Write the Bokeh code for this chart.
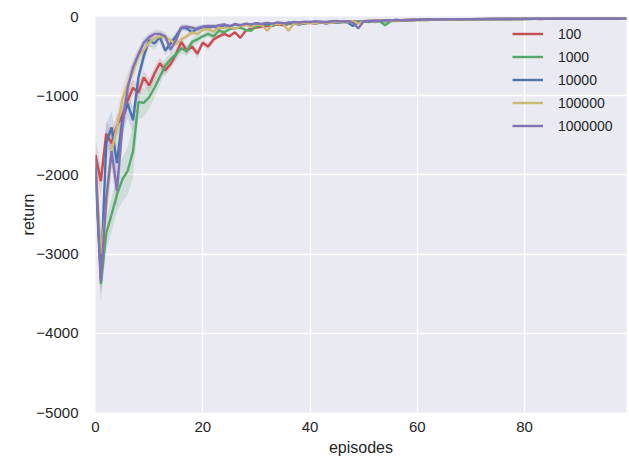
from bokeh.plotting import figure
from bokeh.models import Range1d, FixedTicker, Legend, LegendItem
from bokeh.embed import file_html
from bokeh.resources import INLINE

episodes = list(range(100))

ret_100 = [
    -1750, -2080, -1480, -1600, -1380, -1250, -1060, -900, -960, -770,
    -870, -720, -590, -680, -600, -480, -320, -430, -380, -470,
    -330, -380, -290, -250, -220, -250, -200, -270, -180, -150,
    -140, -130, -120, -110, -100, -110, -95, -90, -100, -85,
    -80, -90, -75, -80, -70, -75, -65, -70, -60, -65,
    -60, -55, -60, -50, -55, -50, -45, -50, -45, -40,
    -42, -40, -38, -40, -36, -38, -35, -36, -34, -35,
    -34, -33, -34, -32, -33, -32, -31, -32, -31, -30,
    -31, -30, -30, -31, -30, -29, -30, -29, -30, -29,
    -29, -30, -29, -28, -29, -29, -28, -29, -28, -28]

ret_1000 = [
    -1950, -3380, -2740, -2500, -2250, -2060, -1950, -1700, -1080, -1090,
    -1020, -900, -760, -620, -540, -480, -400, -440, -320, -290,
    -250, -220, -250, -180, -200, -160, -150, -140, -170, -180,
    -120, -110, -100, -120, -90, -100, -85, -95, -80, -90,
    -75, -85, -70, -80, -70, -65, -75, -60, -70, -65,
    -60, -70, -55, -60, -110, -60, -50, -55, -45, -50,
    -45, -42, -44, -40, -38, -40, -36, -37, -35, -36,
    -34, -35, -33, -34, -32, -33, -32, -31, -32, -31,
    -30, -31, -30, -30, -29, -30, -29, -30, -29, -29,
    -29, -28, -29, -28, -29, -28, -28, -29, -28, -28]

ret_10000 = [
    -1900, -3300, -1600, -1400, -1850, -1300, -1100, -1310, -770, -500,
    -300, -340, -260, -430, -340, -250, -140, -150, -200, -150,
    -130, -140, -120, -150, -110, -130, -100, -120, -95, -110,
    -90, -100, -85, -110, -80, -95, -75, -90, -100, -80,
    -70, -85, -75, -90, -70, -80, -65, -75, -120, -70,
    -65, -60, -70, -55, -60, -50, -55, -48, -50, -45,
    -42, -40, -41, -38, -37, -38, -35, -36, -34, -35,
    -33, -34, -32, -33, -32, -31, -32, -31, -30, -31,
    -30, -30, -29, -30, -29, -30, -29, -29, -28, -29,
    -28, -29, -28, -28, -29, -28, -28, -27, -28, -28]

ret_100000 = [
    -1850, -3000, -2400, -1700, -1400, -1050, -850, -700, -500, -420,
    -330, -280, -250, -260, -300, -350, -290, -250, -200, -220,
    -170, -160, -190, -140, -150, -130, -160, -120, -110, -130,
    -100, -110, -180, -100, -90, -95, -180, -85, -90, -80,
    -75, -85, -70, -80, -75, -70, -65, -75, -60, -90,
    -60, -55, -65, -50, -55, -50, -60, -48, -45, -50,
    -44, -42, -45, -40, -38, -40, -37, -38, -35, -36,
    -35, -34, -33, -34, -32, -33, -32, -31, -31, -30,
    -31, -30, -30, -29, -30, -29, -29, -30, -29, -28,
    -29, -28, -28, -29, -28, -28, -27, -28, -28, -27]

ret_1000000 = [
    -1800, -3350, -2300, -1700, -2200, -1400, -900, -640, -480, -330,
    -260, -220, -220, -250, -420, -300, -140, -130, -140, -160,
    -130, -120, -130, -110, -100, -120, -95, -110, -90, -100,
    -85, -95, -80, -90, -75, -85, -80, -70, -75, -65,
    -70, -60, -65, -70, -60, -55, -65, -60, -80, -150,
    -60, -55, -50, -55, -48, -50, -45, -48, -42, -45,
    -40, -41, -38, -39, -37, -36, -35, -36, -34, -33,
    -33, -32, -33, -31, -32, -31, -30, -31, -30, -30,
    -29, -30, -29, -29, -30, -29, -28, -29, -28, -28,
    -28, -29, -28, -27, -28, -28, -27, -28, -27, -27]

# spread (half-width of shaded band) for the first 25 episodes
sd_100 = [200, 180, 150, 150, 130, 120, 110, 100, 100, 90, 90, 80, 70, 70, 60, 60, 50, 60, 50, 50, 40, 40, 35, 30, 30]
sd_1000 = [250, 200, 200, 220, 220, 280, 300, 330, 220, 180, 150, 120, 100, 90, 80, 80, 70, 60, 50, 50, 40, 40, 35, 30, 30]
sd_10000 = [220, 200, 250, 200, 250, 200, 180, 160, 120, 100, 80, 70, 60, 60, 50, 50, 40, 40, 40, 35, 30, 30, 30, 25, 25]
sd_100000 = [200, 220, 250, 220, 200, 180, 150, 120, 100, 80, 70, 60, 60, 50, 50, 50, 40, 40, 35, 35, 30, 30, 30, 25, 25]
sd_1000000 = [220, 250, 230, 220, 220, 200, 150, 100, 80, 60, 50, 50, 50, 50, 60, 50, 40, 30, 30, 30, 30, 25, 25, 20, 20]

labels = ["100", "1000", "10000", "100000", "1000000"]
series = [ret_100, ret_1000, ret_10000, ret_100000, ret_1000000]
spreads = [sd_100, sd_1000, sd_10000, sd_100000, sd_1000000]
colors = ["#C44E52", "#55A868", "#4C72B0", "#CCB974", "#8172B2"]

x_ticks = [0, 20, 40, 60, 80]
y_ticks = [0, -1000, -2000, -3000, -4000, -5000]
y_tick_labels = {0: "0", -1000: "\u22121000", -2000: "\u22122000", -3000: "\u22123000",
                 -4000: "\u22124000", -5000: "\u22125000"}

FONT = "Liberation Sans"
TXT = "#262626"

p = figure(width=629, height=460, output_backend="svg", toolbar_location=None,
           x_range=Range1d(0, 99), y_range=Range1d(-5000, 0),
           min_border_left=95, min_border_right=3, min_border_top=16, min_border_bottom=48)
p.background_fill_color = "#EAEAF2"
p.border_fill_color = "white"
p.outline_line_color = None

p.xgrid.grid_line_color = "white"
p.ygrid.grid_line_color = "white"
p.xgrid.grid_line_width = 1.3
p.ygrid.grid_line_width = 1.3
p.xaxis.ticker = FixedTicker(ticks=x_ticks)
p.yaxis.ticker = FixedTicker(ticks=y_ticks)
p.yaxis.major_label_overrides = y_tick_labels

for ax in (p.xaxis, p.yaxis):
    ax.axis_line_color = None
    ax.major_tick_line_color = None
    ax.minor_tick_line_color = None
    ax.major_label_text_font = FONT
    ax.major_label_text_font_size = "15px"
    ax.major_label_text_color = TXT
    ax.axis_label_text_font = FONT
    ax.axis_label_text_font_size = "16px"
    ax.axis_label_text_font_style = "normal"
    ax.axis_label_text_color = TXT
p.xaxis.axis_label = "episodes"
p.yaxis.axis_label = "return"
p.xaxis.major_label_standoff = 3
p.yaxis.major_label_standoff = 11
p.xaxis.axis_label_standoff = 4
p.yaxis.axis_label_standoff = -4

items = []
for lab, vals, sd, col in zip(labels, series, spreads, colors):
    n = len(sd)
    lo = [v - s for v, s in zip(vals[:n], sd)]
    hi = [v + s for v, s in zip(vals[:n], sd)]
    p.varea(x=episodes[:n], y1=lo, y2=hi, fill_color=col, fill_alpha=0.18)
for lab, vals, col in zip(labels, series, colors):
    r = p.line(episodes, vals, line_color=col, line_width=2.4)
    items.append(LegendItem(label=lab, renderers=[r]))

legend = Legend(items=items, location=(417, 275), glyph_width=31, glyph_height=23,
                label_height=23, label_standoff=15, spacing=0, padding=0, margin=0,
                border_line_alpha=0, background_fill_alpha=0,
                label_text_font=FONT, label_text_font_size="14px", label_text_color=TXT)
p.add_layout(legend, "center")

open("out.html", "w").write(file_html(p, INLINE))
